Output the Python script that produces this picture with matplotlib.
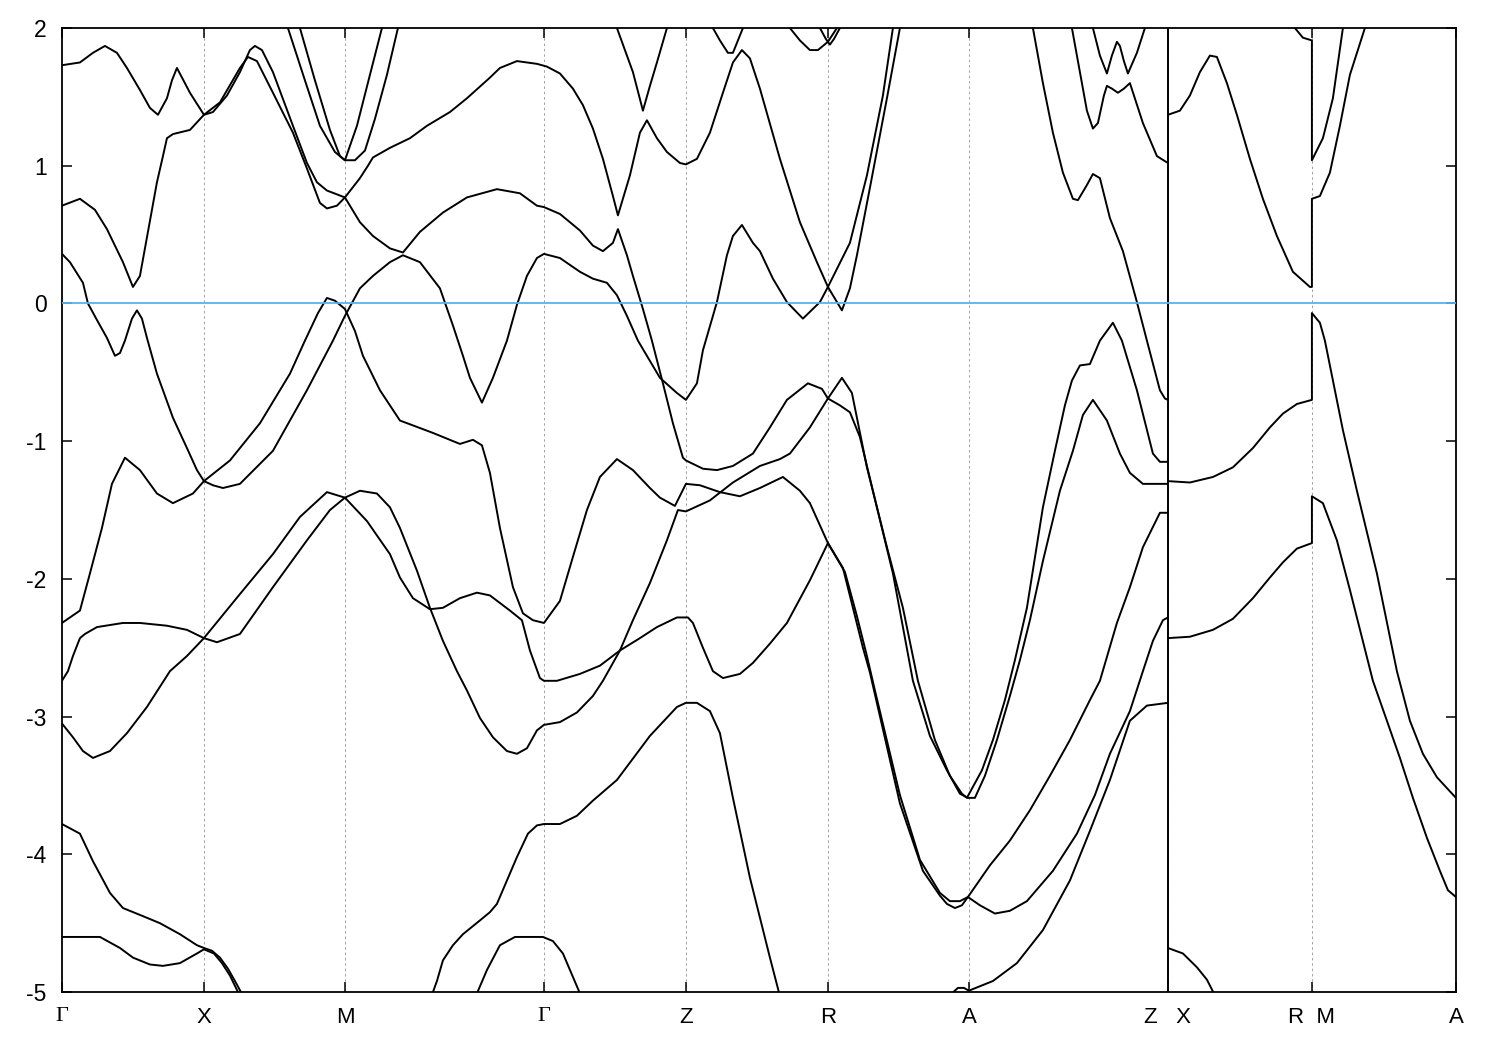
import numpy as np
import matplotlib
matplotlib.use('Agg')
import matplotlib.pyplot as plt

plt.rcParams['font.family'] = ['Liberation Sans', 'DejaVu Sans']

# high-symmetry points along the k-path (path length units)
kpath_pos = [0.00, 1.42, 2.83, 4.82, 6.24, 7.66, 9.07, 11.06, 12.50, 13.94]
kpath_labels = ['Γ', 'X', 'M', 'Γ', 'Z', 'R', 'A', 'Z   X', 'R  M', 'A']
k_break = 11.06          # discontinuity Z|X
e_ticks = [-5, -4, -3, -2, -1, 0, 1, 2]

# bands: (k, E in eV)
band_01 = [(0.00, 1.73), (0.18, 1.75), (0.31, 1.82), (0.43, 1.87), (0.55, 1.82), (0.65, 1.71), (0.78, 1.55),
           (0.88, 1.42), (0.96, 1.37), (1.05, 1.49), (1.10, 1.62), (1.15, 1.71), (1.28, 1.53), (1.42, 1.37),
           (1.51, 1.39), (1.65, 1.51), (1.78, 1.68), (1.88, 1.84), (1.93, 1.87), (2.00, 1.84), (2.11, 1.68),
           (2.31, 1.29), (2.45, 1.02), (2.55, 0.88), (2.65, 0.82), (2.83, 0.77), (2.98, 0.91), (3.06, 1.00),
           (3.11, 1.06), (3.28, 1.13), (3.48, 1.20), (3.65, 1.29), (3.88, 1.39), (4.05, 1.49), (4.28, 1.64),
           (4.38, 1.71), (4.55, 1.76), (4.75, 1.74), (4.85, 1.72), (4.98, 1.67), (5.11, 1.56), (5.21, 1.44),
           (5.31, 1.27), (5.41, 1.05), (5.51, 0.78), (5.56, 0.64), (5.68, 0.93), (5.78, 1.24), (5.85, 1.33),
           (5.95, 1.20), (6.05, 1.10), (6.18, 1.02), (6.24, 1.01), (6.35, 1.05), (6.48, 1.24), (6.61, 1.53),
           (6.71, 1.75), (6.80, 1.84), (6.88, 1.78), (6.98, 1.56), (7.18, 1.05), (7.38, 0.59), (7.55, 0.30),
           (7.66, 0.12), (7.80, -0.05), (7.88, 0.11), (7.95, 0.35), (8.08, 0.84), (8.25, 1.49), (8.38, 2.00)]
band_02 = [(0.00, 0.71), (0.18, 0.76), (0.33, 0.68), (0.45, 0.54), (0.61, 0.30), (0.71, 0.12), (0.78, 0.20),
           (0.88, 0.60), (0.95, 0.88), (1.01, 1.07), (1.05, 1.20), (1.11, 1.23), (1.28, 1.26), (1.42, 1.37),
           (1.58, 1.46), (1.78, 1.71), (1.86, 1.79), (1.95, 1.76), (2.11, 1.53), (2.31, 1.24), (2.45, 0.98),
           (2.58, 0.73), (2.65, 0.69), (2.75, 0.71), (2.83, 0.77), (2.98, 0.59), (3.11, 0.49), (3.28, 0.40),
           (3.41, 0.37), (3.58, 0.52), (3.81, 0.66), (4.05, 0.77), (4.35, 0.83), (4.58, 0.80), (4.75, 0.71),
           (4.82, 0.70), (4.98, 0.65), (5.18, 0.53), (5.31, 0.42), (5.41, 0.38), (5.51, 0.44), (5.56, 0.54),
           (5.65, 0.35), (5.71, 0.20), (5.81, -0.04), (5.90, -0.27), (6.01, -0.58), (6.11, -0.87), (6.21, -1.12),
           (6.24, -1.14), (6.41, -1.20), (6.55, -1.21), (6.71, -1.18), (6.91, -1.09), (7.08, -0.90), (7.25, -0.70),
           (7.46, -0.58), (7.60, -0.62), (7.66, -0.69), (7.78, -0.74), (7.88, -0.79), (7.98, -0.97), (8.11, -1.36),
           (8.31, -1.96), (8.51, -2.74), (8.68, -3.14), (8.85, -3.39), (8.98, -3.56), (9.06, -3.59), (9.13, -3.59),
           (9.23, -3.43), (9.35, -3.17), (9.48, -2.85), (9.58, -2.59), (9.68, -2.30), (9.81, -1.87), (9.98, -1.36),
           (10.11, -1.07), (10.21, -0.81), (10.31, -0.70), (10.45, -0.85), (10.58, -1.09), (10.68, -1.23),
           (10.81, -1.31), (11.06, -1.31)]
band_03 = [(0.00, 0.36), (0.08, 0.30), (0.21, 0.15), (0.26, 0.00), (0.35, -0.12), (0.45, -0.25), (0.53, -0.38),
           (0.58, -0.36), (0.63, -0.27), (0.70, -0.11), (0.75, -0.05), (0.80, -0.11), (0.85, -0.25), (0.95, -0.51),
           (1.11, -0.83), (1.25, -1.05), (1.35, -1.21), (1.42, -1.29), (1.51, -1.32), (1.61, -1.34), (1.78, -1.31),
           (2.11, -1.07), (2.45, -0.63), (2.71, -0.27), (2.83, -0.09), (2.98, 0.11), (3.11, 0.20), (3.28, 0.30),
           (3.41, 0.35), (3.58, 0.30), (3.78, 0.11), (3.91, -0.16), (4.01, -0.38), (4.08, -0.54), (4.20, -0.72),
           (4.31, -0.54), (4.45, -0.27), (4.55, -0.01), (4.65, 0.20), (4.75, 0.33), (4.82, 0.36), (4.98, 0.33),
           (5.18, 0.23), (5.31, 0.18), (5.45, 0.15), (5.55, 0.06), (5.65, -0.09), (5.76, -0.27), (5.98, -0.54),
           (6.15, -0.65), (6.24, -0.70), (6.35, -0.58), (6.41, -0.34), (6.55, 0.01), (6.65, 0.35), (6.71, 0.49),
           (6.80, 0.57), (6.91, 0.44), (6.98, 0.38), (7.11, 0.18), (7.25, 0.01), (7.41, -0.11), (7.58, 0.01),
           (7.66, 0.12), (7.88, 0.44), (8.05, 0.93), (8.21, 1.51), (8.31, 2.00)]
band_04 = [(0.00, -2.32), (0.18, -2.23), (0.28, -1.96), (0.40, -1.63), (0.50, -1.31), (0.63, -1.12), (0.78, -1.21),
           (0.95, -1.38), (1.11, -1.45), (1.31, -1.38), (1.42, -1.29), (1.68, -1.14), (1.98, -0.87), (2.28, -0.51),
           (2.43, -0.27), (2.56, -0.07), (2.65, 0.04), (2.73, 0.02), (2.83, -0.04), (2.93, -0.20), (3.01, -0.38),
           (3.18, -0.63), (3.38, -0.85), (3.71, -0.94), (3.98, -1.02), (4.11, -0.99), (4.20, -1.03), (4.28, -1.23),
           (4.38, -1.63), (4.51, -2.06), (4.61, -2.25), (4.71, -2.30), (4.82, -2.32), (4.98, -2.16), (5.11, -1.84),
           (5.25, -1.50), (5.38, -1.26), (5.55, -1.13), (5.71, -1.21), (5.88, -1.34), (5.98, -1.41), (6.13, -1.47),
           (6.24, -1.31), (6.38, -1.32), (6.58, -1.37), (6.78, -1.40), (6.98, -1.34), (7.21, -1.26), (7.38, -1.36),
           (7.48, -1.45), (7.66, -1.74), (7.81, -1.92), (7.91, -2.21), (8.01, -2.50), (8.08, -2.68), (8.38, -3.63),
           (8.61, -4.12), (8.78, -4.30), (8.85, -4.36), (8.93, -4.39), (9.00, -4.37), (9.06, -4.31), (9.28, -4.08),
           (9.48, -3.90), (9.68, -3.68), (9.88, -3.43), (10.08, -3.17), (10.28, -2.88), (10.38, -2.74),
           (10.55, -2.32), (10.68, -2.06), (10.81, -1.77), (10.98, -1.52), (11.06, -1.52)]
band_05 = [(0.00, -3.05), (0.11, -3.15), (0.21, -3.25), (0.31, -3.30), (0.48, -3.25), (0.65, -3.12), (0.85, -2.93),
           (1.08, -2.67), (1.25, -2.56), (1.42, -2.43), (1.78, -2.11), (2.11, -1.82), (2.38, -1.55), (2.65, -1.37),
           (2.83, -1.41), (3.05, -1.58), (3.28, -1.82), (3.38, -1.99), (3.51, -2.14), (3.68, -2.22), (3.81, -2.21),
           (3.98, -2.14), (4.15, -2.10), (4.28, -2.12), (4.48, -2.23), (4.60, -2.30), (4.68, -2.52), (4.78, -2.72),
           (4.82, -2.74), (4.95, -2.74), (5.18, -2.69), (5.38, -2.63), (5.58, -2.52), (5.78, -2.43), (5.95, -2.35),
           (6.15, -2.28), (6.26, -2.28), (6.31, -2.32), (6.41, -2.50), (6.51, -2.67), (6.61, -2.72), (6.78, -2.69),
           (6.91, -2.61), (7.08, -2.47), (7.25, -2.32), (7.48, -2.01), (7.66, -1.74), (7.83, -1.95), (7.95, -2.27),
           (8.05, -2.56), (8.13, -2.81), (8.38, -3.57), (8.58, -4.04), (8.78, -4.28), (8.88, -4.34), (8.98, -4.34),
           (9.06, -4.31), (9.18, -4.37), (9.33, -4.43), (9.48, -4.41), (9.65, -4.34), (9.91, -4.12), (10.15, -3.85),
           (10.33, -3.57), (10.48, -3.27), (10.68, -2.96), (10.81, -2.67), (10.91, -2.45), (11.01, -2.30),
           (11.06, -2.28)]
band_06 = [(0.00, -2.74), (0.06, -2.67), (0.11, -2.56), (0.18, -2.43), (0.23, -2.40), (0.35, -2.35), (0.61, -2.32),
           (0.78, -2.32), (1.05, -2.34), (1.25, -2.37), (1.42, -2.43), (1.55, -2.46), (1.78, -2.40), (2.11, -2.06),
           (2.45, -1.72), (2.68, -1.50), (2.83, -1.41), (2.98, -1.36), (3.15, -1.38), (3.28, -1.48), (3.38, -1.63),
           (3.55, -1.94), (3.68, -2.21), (3.81, -2.45), (3.95, -2.67), (4.05, -2.81), (4.18, -3.01), (4.31, -3.15),
           (4.45, -3.25), (4.55, -3.27), (4.65, -3.23), (4.75, -3.10), (4.82, -3.06), (4.98, -3.04), (5.15, -2.97),
           (5.31, -2.85), (5.41, -2.74), (5.58, -2.52), (5.71, -2.30), (5.88, -2.03), (6.05, -1.72), (6.16, -1.50),
           (6.24, -1.51), (6.48, -1.43), (6.71, -1.30), (6.98, -1.18), (7.18, -1.13), (7.28, -1.09), (7.48, -0.90),
           (7.66, -0.69), (7.80, -0.54), (7.90, -0.65), (8.05, -1.19), (8.25, -1.77), (8.41, -2.21), (8.56, -2.74),
           (8.73, -3.17), (8.88, -3.43), (9.00, -3.56), (9.05, -3.59), (9.20, -3.39), (9.31, -3.17), (9.43, -2.88),
           (9.53, -2.59), (9.65, -2.21), (9.81, -1.48), (9.93, -1.07), (10.03, -0.74), (10.10, -0.56),
           (10.18, -0.45), (10.28, -0.44), (10.38, -0.27), (10.51, -0.14), (10.60, -0.27), (10.75, -0.63),
           (10.91, -1.09), (10.98, -1.15), (11.06, -1.15)]
band_07 = [(0.00, -3.78), (0.18, -3.85), (0.31, -4.05), (0.48, -4.28), (0.61, -4.39), (0.78, -4.44), (0.98, -4.50),
           (1.18, -4.58), (1.35, -4.66), (1.42, -4.68), (1.50, -4.70), (1.58, -4.75), (1.66, -4.83), (1.73, -4.92),
           (1.79, -5.00), (1.82, -5.06)]
band_08 = [(0.00, -4.60), (0.38, -4.60), (0.58, -4.68), (0.71, -4.75), (0.88, -4.80), (1.01, -4.81), (1.18, -4.79),
           (1.35, -4.72), (1.42, -4.69), (1.52, -4.72), (1.60, -4.79), (1.68, -4.88), (1.76, -5.00), (1.79, -5.06)]
band_09 = [(3.68, -5.06), (3.75, -4.92), (3.81, -4.77), (3.91, -4.66), (4.01, -4.58), (4.18, -4.48), (4.28, -4.42),
           (4.35, -4.36), (4.45, -4.19), (4.55, -4.02), (4.66, -3.85), (4.75, -3.79), (4.82, -3.78), (4.98, -3.78),
           (5.15, -3.72), (5.31, -3.61), (5.55, -3.46), (5.88, -3.14), (6.15, -2.93), (6.24, -2.90), (6.35, -2.90),
           (6.48, -2.96), (6.58, -3.12), (6.71, -3.59), (6.88, -4.17), (7.08, -4.75), (7.18, -5.03)]
band_10 = [(4.13, -5.06), (4.15, -5.01), (4.25, -4.84), (4.38, -4.66), (4.53, -4.60), (4.81, -4.60), (4.91, -4.63),
           (5.01, -4.72), (5.18, -5.01), (5.19, -5.06)]
band_11 = [(5.55, 2.00), (5.63, 1.84), (5.71, 1.68), (5.81, 1.40), (5.88, 1.58), (5.95, 1.75), (6.05, 2.00)]
band_12 = [(6.51, 2.00), (6.58, 1.91), (6.66, 1.82), (6.71, 1.82), (6.76, 1.91), (6.81, 2.00)]
band_13 = [(7.28, 2.00), (7.38, 1.91), (7.48, 1.84), (7.56, 1.84), (7.66, 1.90), (7.75, 2.00)]
band_14 = [(7.58, 2.00), (7.64, 1.92), (7.68, 1.88), (7.72, 1.92), (7.78, 2.00)]
band_15 = [(2.26, 2.00), (2.43, 1.62), (2.58, 1.29), (2.73, 1.10), (2.83, 1.04), (2.95, 1.29), (3.08, 1.66),
           (3.20, 2.00)]
band_16 = [(2.38, 2.00), (2.53, 1.62), (2.68, 1.26), (2.78, 1.07), (2.83, 1.04), (2.93, 1.04), (3.03, 1.11),
           (3.13, 1.34), (3.25, 1.66), (3.36, 2.00)]
band_17 = [(9.71, 2.00), (9.81, 1.60), (9.91, 1.24), (10.01, 0.95), (10.11, 0.76), (10.16, 0.75), (10.25, 0.86),
           (10.31, 0.94), (10.38, 0.91), (10.48, 0.62), (10.61, 0.38), (10.75, 0.01), (10.85, -0.27),
           (10.98, -0.63), (11.03, -0.69), (11.06, -0.70)]
band_18 = [(10.10, 2.00), (10.18, 1.68), (10.25, 1.40), (10.31, 1.27), (10.36, 1.31), (10.42, 1.51), (10.45, 1.58),
           (10.50, 1.56), (10.56, 1.53), (10.62, 1.56), (10.68, 1.60), (10.81, 1.31), (10.95, 1.07), (11.06, 1.02)]
band_19 = [(10.31, 2.00), (10.38, 1.80), (10.45, 1.67), (10.50, 1.80), (10.55, 1.90), (10.58, 1.87), (10.62, 1.76),
           (10.66, 1.67), (10.75, 1.82), (10.83, 2.00)]
band_20 = [(8.90, -5.01), (8.96, -4.97), (9.02, -4.97), (9.07, -4.99), (9.31, -4.92), (9.55, -4.79), (9.81, -4.55),
           (10.08, -4.19), (10.28, -3.83), (10.48, -3.46), (10.68, -3.03), (10.85, -2.92), (11.06, -2.90)]
band_21 = [(11.06, 1.37), (11.18, 1.40), (11.28, 1.51), (11.38, 1.68), (11.48, 1.80), (11.55, 1.79), (11.65, 1.60),
           (11.75, 1.37), (11.88, 1.05), (12.01, 0.76), (12.15, 0.49), (12.31, 0.23), (12.48, 0.12), (12.50, 0.12),
           (12.50, 0.76), (12.58, 0.78), (12.68, 0.95), (12.78, 1.29), (12.88, 1.66), (13.03, 2.00)]
band_22 = [(12.33, 2.00), (12.41, 1.93), (12.50, 1.91), (12.50, 1.04), (12.61, 1.20), (12.71, 1.49), (12.81, 2.00)]
band_23 = [(11.06, -1.29), (11.28, -1.30), (11.51, -1.26), (11.71, -1.19), (11.91, -1.05), (12.08, -0.90),
           (12.21, -0.80), (12.35, -0.73), (12.50, -0.70), (12.50, -0.07), (12.58, -0.14), (12.63, -0.27),
           (12.81, -0.92), (12.95, -1.36), (13.15, -1.96), (13.35, -2.67), (13.48, -3.03), (13.61, -3.27),
           (13.75, -3.44), (13.94, -3.59)]
band_24 = [(11.06, -2.43), (11.28, -2.42), (11.51, -2.37), (11.71, -2.29), (11.91, -2.14), (12.08, -1.99),
           (12.21, -1.88), (12.35, -1.78), (12.50, -1.74), (12.50, -1.40), (12.61, -1.45), (12.75, -1.72),
           (12.88, -2.08), (13.11, -2.74), (13.25, -3.03), (13.38, -3.30), (13.51, -3.59), (13.65, -3.88),
           (13.78, -4.12), (13.86, -4.26), (13.94, -4.31)]
band_25 = [(11.06, -4.68), (11.21, -4.72), (11.35, -4.82), (11.45, -4.91), (11.52, -5.01)]

bands = [band_01, band_02, band_03, band_04, band_05, band_06, band_07, band_08, band_09, band_10,
         band_11, band_12, band_13, band_14, band_15, band_16, band_17, band_18, band_19, band_20,
         band_21, band_22, band_23, band_24, band_25]


def main():
    fig = plt.figure(figsize=(15, 10.5), dpi=100)
    ax = fig.add_axes([0.0413, 0.0552, 0.9293, 0.9181])

    # dotted lines at the high-symmetry points
    for k in kpath_pos[1:-1]:
        ax.axvline(k, color='#a0a0a0', lw=0.7, ls=(0, (2.5, 3)), zorder=0)

    for band in bands:
        arr = np.array(band)
        ax.plot(arr[:, 0], arr[:, 1], color='black', lw=1.4, zorder=2,
                solid_joinstyle='round', solid_capstyle='round')

    ax.axvline(k_break, color='black', lw=1.4, zorder=2)
    ax.axhline(0, color='#56B4E9', lw=1.3, zorder=3)

    ax.set_xlim(kpath_pos[0], kpath_pos[-1])
    ax.set_ylim(-5, 2)
    ax.set_xticks(kpath_pos)
    ax.set_xticklabels(kpath_labels)
    ax.set_yticks(e_ticks)
    ax.set_yticklabels([str(v) for v in e_ticks])
    ax.tick_params(axis='both', direction='in', top=True, right=True, length=7, width=1.1)
    ax.tick_params(axis='x', pad=11, labelsize=16)
    ax.tick_params(axis='y', pad=11, labelsize=16.5)
    for lbl in ax.get_xticklabels():
        if lbl.get_text() == 'Γ':
            lbl.set_fontfamily(['Liberation Serif', 'DejaVu Serif'])
    for sp in ax.spines.values():
        sp.set_linewidth(1.3)

    fig.savefig('out.png', dpi=100)


if __name__ == "__main__":
    main()
